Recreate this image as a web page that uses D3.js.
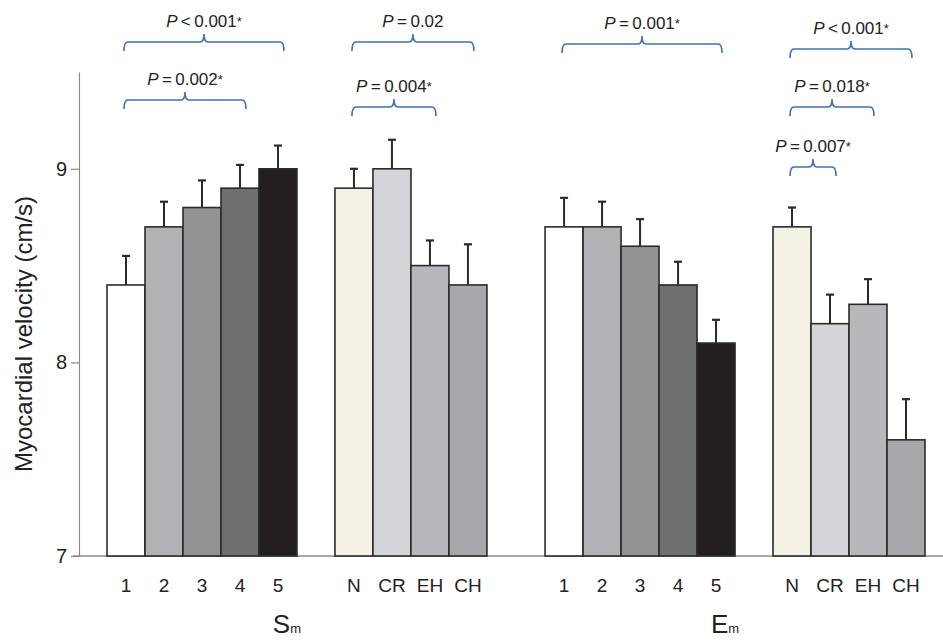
<!DOCTYPE html>
<html>
<head>
<meta charset="utf-8">
<script src="https://cdn.jsdelivr.net/npm/d3@7"></script>
<style>
  html, body { margin: 0; padding: 0; background: #fff; }
  svg { display: block; font-family: "Liberation Sans", Arial, Helvetica, sans-serif; }
</style>
</head>
<body>
<svg id="chart" width="943" height="642"></svg>
<script>
// ---------------- data ----------------
const quintileCats = ["1", "2", "3", "4", "5"];
const geometryCats = ["N", "CR", "EH", "CH"];

const smQuintile = [8.4, 8.7, 8.8, 8.9, 9.0];
const smQuintileErr = [0.15, 0.13, 0.14, 0.12, 0.12];
const smGeometry = [8.9, 9.0, 8.5, 8.4];
const smGeometryErr = [0.10, 0.15, 0.13, 0.21];

const emQuintile = [8.7, 8.7, 8.6, 8.4, 8.1];
const emQuintileErr = [0.15, 0.13, 0.14, 0.12, 0.12];
const emGeometry = [8.7, 8.2, 8.3, 7.6];
const emGeometryErr = [0.10, 0.15, 0.13, 0.21];

const yTicks = [7, 8, 9];
const panelLabels = ["S", "E"];
const panelSub = "m";
const yTitle = "Myocardial velocity (cm/s)";

// significance brackets: group index, first bar, last bar, label
const bracketGroup = [0, 0, 1, 1, 2, 3, 3, 3];
const bracketFrom  = [0, 0, 0, 0, 0, 0, 0, 0];
const bracketTo    = [4, 3, 3, 2, 4, 3, 2, 1];
const bracketOp    = ["<", "=", "=", "=", "=", "<", "=", "="];
const bracketVal   = ["0.001", "0.002", "0.02", "0.004", "0.001", "0.001", "0.018", "0.007"];
const bracketStar  = [true, true, false, true, true, true, true, true];

// ---------------- styles / layout ----------------
const quintileColors = ["#ffffff", "#b1b2b5", "#929395", "#6d6f71", "#231f20"];
const geometryColors = ["#f4f2e5", "#d3d4d7", "#b7b8bb", "#a7a8ab"];
const bracketColor = "#3f70b5";
const bracketLevels = [42, 100, 42, 107, 44, 49, 107, 167];
const groupOffsets = [0, 6, 11.53, 17.53];

const groups = [
  { cats: quintileCats, vals: smQuintile, errs: smQuintileErr, colors: quintileColors },
  { cats: geometryCats, vals: smGeometry, errs: smGeometryErr, colors: geometryColors },
  { cats: quintileCats, vals: emQuintile, errs: emQuintileErr, colors: quintileColors },
  { cats: geometryCats, vals: emGeometry, errs: emGeometryErr, colors: geometryColors }
];

const svg = d3.select("#chart");

const y = d3.scaleLinear().domain([7, 9.5]).range([556, 72]);
const x = d3.scaleLinear().domain([0, 21.53]).range([107, 925]);
const slotW = x(1) - x(0);

// ---------------- axis ----------------
const yAxis = d3.axisLeft(y).tickValues(yTicks).tickFormat(d3.format("d"))
  .tickSize(8).tickSizeOuter(0).tickPadding(4);
const ag = svg.append("g").attr("transform", `translate(${x(0) - 28},0)`).call(yAxis);
ag.select(".domain").attr("stroke", "#8a8a8a").attr("stroke-width", 1.2);
ag.selectAll(".tick line").attr("stroke", "#8a8a8a").attr("stroke-width", 1.2);
ag.selectAll(".tick text").attr("fill", "#222").style("font-size", "20px")
  .style("font-family", "'Liberation Sans', Arial, sans-serif");

// baseline
svg.append("line")
  .attr("x1", x(0) - 34).attr("x2", 943)
  .attr("y1", y(7)).attr("y2", y(7))
  .attr("stroke", "#8a8a8a").attr("stroke-width", 1.4);

// y title
svg.append("text")
  .attr("transform", `translate(32,${(y(7) + y(9.5)) / 2 + 20}) rotate(-90)`)
  .attr("text-anchor", "middle")
  .attr("fill", "#222")
  .style("font-size", "24px")
  .text(yTitle);

// ---------------- bars ----------------
groups.forEach((g, gi) => {
  const gg = svg.append("g");
  const items = g.vals.map((v, i) => ({ v, e: g.errs[i], c: g.colors[i], cat: g.cats[i], i }));
  const bx = d => x(groupOffsets[gi] + d.i);

  // error bars (drawn first so the bar outline covers the base)
  gg.selectAll("line.err").data(items).join("line")
    .attr("x1", d => bx(d) + slotW / 2).attr("x2", d => bx(d) + slotW / 2)
    .attr("y1", d => y(d.v)).attr("y2", d => y(d.v + d.e))
    .attr("stroke", "#2a2a2a").attr("stroke-width", 2);
  gg.selectAll("line.cap").data(items).join("line")
    .attr("x1", d => bx(d) + slotW / 2 - 4).attr("x2", d => bx(d) + slotW / 2 + 4)
    .attr("y1", d => y(d.v + d.e)).attr("y2", d => y(d.v + d.e))
    .attr("stroke", "#2a2a2a").attr("stroke-width", 2.2);

  gg.selectAll("rect").data(items).join("rect")
    .attr("x", d => bx(d))
    .attr("y", d => y(d.v))
    .attr("width", slotW)
    .attr("height", d => y(7) - y(d.v))
    .attr("fill", d => d.c)
    .attr("stroke", "#2b2b2b")
    .attr("stroke-width", 1.6);

  gg.selectAll("text").data(items).join("text")
    .attr("x", d => bx(d) + slotW / 2)
    .attr("y", 592)
    .attr("text-anchor", "middle")
    .attr("fill", "#222")
    .style("font-size", "19px")
    .text(d => d.cat);
});

// panel labels (S_m, E_m)
[[0, 1], [2, 3]].forEach((pair, pi) => {
  const left = x(groupOffsets[pair[0]]);
  const right = x(groupOffsets[pair[1]] + groups[pair[1]].vals.length);
  const cx = (left + right) / 2 - 10;
  const t = svg.append("text")
    .attr("x", cx).attr("y", 633)
    .attr("text-anchor", "middle")
    .attr("fill", "#222");
  t.append("tspan").style("font-size", "26px").text(panelLabels[pi]);
  t.append("tspan").style("font-size", "13px").text(panelSub);
});

// ---------------- brackets ----------------
bracketGroup.forEach((gi, k) => {
  const x1 = x(groupOffsets[gi] + bracketFrom[k] + 0.5) - 2;
  const x2 = x(groupOffsets[gi] + bracketTo[k] + 0.5) + 6;
  const yl = bracketLevels[k];
  const xc = (x1 + x2) / 2;
  const h = 9, up = 8, r = 4;
  const p = d3.path();
  p.moveTo(x1, yl + h);
  p.quadraticCurveTo(x1, yl, x1 + r, yl);
  p.lineTo(xc - r, yl);
  p.quadraticCurveTo(xc, yl, xc, yl - up);
  p.quadraticCurveTo(xc, yl, xc + r, yl);
  p.lineTo(x2 - r, yl);
  p.quadraticCurveTo(x2, yl, x2, yl + h);
  svg.append("path").attr("d", p.toString())
    .attr("fill", "none").attr("stroke", bracketColor).attr("stroke-width", 1.6);

  const t = svg.append("text")
    .attr("x", xc).attr("y", yl - 15)
    .attr("text-anchor", "middle")
    .attr("fill", "#222")
    .style("font-size", "17px");
  t.append("tspan").style("font-style", "italic").text("P");
  t.append("tspan").text("\u2009" + bracketOp[k] + "\u2009" + bracketVal[k]);
  if (bracketStar[k]) t.append("tspan").style("font-size", "13px").attr("dy", -1).text("*");
});
</script>
</body>
</html>
